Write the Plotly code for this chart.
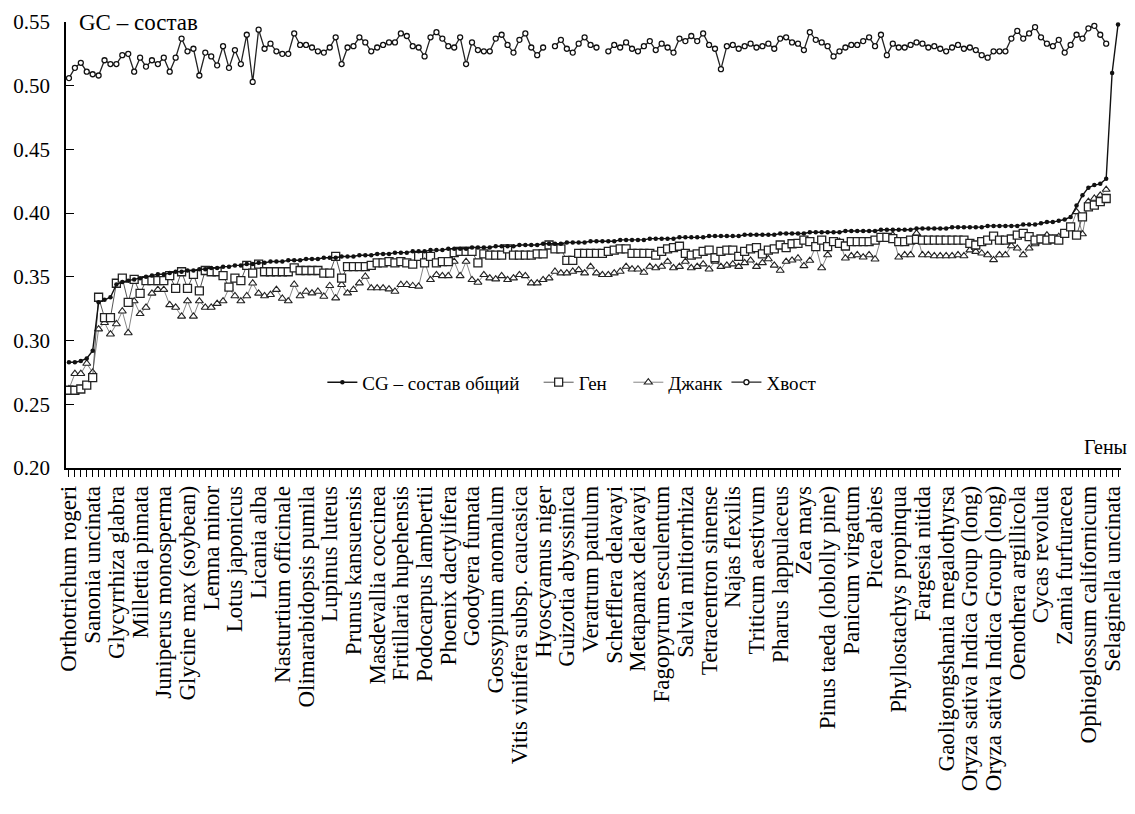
import plotly.graph_objects as go

gene_labels = [
    "Orthotrichum rogeri", "Sanonia uncinata", "Glycyrrhiza glabra", "Millettia pinnata",
    "Juniperus monosperma", "Glycine max (soybean)", "Lemna minor", "Lotus japonicus",
    "Licania alba", "Nasturtium officinale", "Olimarabidopsis pumila", "Lupinus luteus",
    "Prunus kansuensis", "Masdevallia coccinea", "Fritillaria hupehensis", "Podocarpus lambertii",
    "Phoenix dactylifera", "Goodyera fumata", "Gossypium anomalum", "Vitis vinifera subsp. caucasica",
    "Hyoscyamus niger", "Guizotia abyssinica", "Veratrum patulum", "Schefflera delavayi",
    "Metapanax delavayi", "Fagopyrum esculentum", "Salvia miltiorrhiza", "Tetracentron sinense",
    "Najas flexilis", "Triticum aestivum", "Pharus lappulaceus", "Zea mays",
    "Pinus taeda (loblolly pine)", "Panicum virgatum", "Picea abies", "Phyllostachys propinqua",
    "Fargesia nitida", "Gaoligongshania megalothyrsa", "Oryza sativa Indica Group (long)",
    "Oryza sativa Indica Group (long)", "Oenothera argillicola", "Cycas revoluta",
    "Zamia furfuracea", "Ophioglossum californicum", "Selaginella uncinata",
]
label_step = 4

cg_total = [
    .283, .283, .284, .286, .292, .330, .332, .334, .344, .346,
    .347, .348, .349, .350, .351, .352, .352, .353, .354, .354,
    .355, .355, .356, .356, .357, .357, .358, .358, .359, .359,
    .360, .360, .361, .361, .362, .362, .362, .363, .363, .363,
    .364, .364, .364, .365, .365, .365, .366, .366, .366, .367,
    .367, .367, .368, .368, .368, .369, .369, .369, .370, .370,
    .370, .371, .371, .371, .372, .372, .372, .372, .373, .373,
    .373, .373, .374, .374, .374, .374, .375, .375, .375, .375,
    .376, .376, .376, .376, .377, .377, .377, .377, .378, .378,
    .378, .378, .378, .379, .379, .379, .379, .379, .380, .380,
    .380, .380, .380, .381, .381, .381, .381, .381, .382, .382,
    .382, .382, .382, .382, .383, .383, .383, .383, .383, .383,
    .384, .384, .384, .384, .384, .385, .385, .385, .385, .385,
    .385, .386, .386, .386, .386, .386, .386, .387, .387, .387,
    .387, .387, .387, .388, .388, .388, .388, .388, .388, .389,
    .389, .389, .389, .389, .389, .390, .390, .390, .390, .390,
    .390, .391, .391, .391, .392, .393, .393, .394, .395, .397,
    .406, .414, .420, .422, .423, .427, .510, .548,
]

gen = [
    .261, .261, .262, .265, .271, .334, .318, .318, .345, .349,
    .330, .348, .337, .347, .347, .347, .347, .351, .341, .354,
    .341, .352, .339, .355, .354, .354, .351, .342, .349, .347,
    .359, .353, .360, .354, .354, .354, .354, .354, .357, .355,
    .355, .355, .355, .353, .353, .366, .349, .358, .358, .358,
    .358, .359, .361, .361, .362, .361, .362, .361, .360, .366,
    .361, .366, .361, .362, .362, .369, .370, .370, .370, .361,
    .368, .367, .367, .367, .372, .367, .367, .367, .367, .368,
    .368, .375, .372, .372, .363, .363, .3685, .3685, .3685, .3685,
    .3685, .370, .371, .372, .372, .3685, .3685, .3685, .3685, .367,
    .370, .372, .373, .374, .3685, .367, .368, .370, .371, .365,
    .370, .371, .371, .366, .370, .372, .373, .368, .371, .372,
    .375, .373, .376,
    .3763, .3789, .3776, .3737, .3789, .3737, .3776, .3763, .3742, .3776,
    .3776, .3776, .3776, .3789, .381, .381, .380, .3776, .3776, .3789,
    .3794, .3789, .3789, .3789, .3789, .3789, .3789, .3789,
    .3789, .3763, .375, .3776, .3789, .382, .3789, .3789, .3797, .3828,
    .3841, .3815, .3789, .3797, .3789, .3797, .3789, .3841, .3893, .3828,
    .3971, .4049, .4063, .409, .4115,
    None, None,
]

junk = [
    .262, .274, .274, .282, .275, .309, .314, .305, .313, .323,
    .306, .331, .321, .326, .337, .340, .340, .328, .326, .319,
    .331, .319, .331, .326, .326, .329, .331, .341, .335, .331,
    .335, .345, .337, .335, .336, .340, .333, .331, .344, .335,
    .3385, .3372, .3385, .3346, .343, .3333, .3438, .3372, .3399, .3451,
    .3503, .3412, .3412, .3412, .3404, .3385, .3438, .3438, .343, .3425,
    .362, .3477, .3516, .3508, .3508, .362, .3508, .362, .3477, .3456,
    .3516, .349, .3482, .3508, .3477, .349, .3516, .3508, .3451, .3451,
    .3477, .349, .3542, .3529, .3529, .3542, .3555, .3529, .3581, .3529,
    .3516, .3516, .3529, .3542, .3581, .356, .356, .3534, .3581, .357,
    .3581, .362, .357, .358, .362, .357, .358, .360, .356, .362,
    .358, .359, .360, .358, .361, .363, .358, .361, .364, .359,
    .355, .362, .363,
    .3646, .3586, .3628, .374, .357, .3672, .3776, .3776, .3646, .3664,
    .3672, .3654, .3672, .3638, .380, .3815, .3828, .3654, .3672, .3672,
    .3841, .3672, .3672, .3664, .3664, .3664, .3664, .3672,
    .3664, .371, .3698, .3685, .3672, .3633, .3672, .3672, .3742, .3724,
    .3672, .3724, .3758, .3789, .3828, .380, .3815, .3841, .388, .401,
    .3836, .409, .4115, .414, .4185,
    None, None,
]

tail = [
    .506, .514, .518, .511, .509, .508, .520, .517, .517, .524,
    .525, .511, .522, .515, .520, .517, .522, .511, .522, .537,
    .527, .529, .508, .526, .523, .516, .531, .514, .528, .517,
    .540, .503, .544, .529, .533, .527, .525, .525, .541,
    .532,
    .532, .530, .527, .526, .530, .538, .517, .530, .531, .538,
    .534, .527, .530, .532, .534, .534, .541, .539, .531, .530,
    .523, .538, .542, .537, .531, .530, .538, .517, .534, .528,
    .527, .527, .537, .540, .532, .526, .536, .541, .530, .524,
    .530, None, .531, .536, .529, .526, .533, .538, .532, .530,
    None, .527, .532, .530, .534, .529, .527, .531, .535, .528,
    .533, .530, .526, .537, .535, .539, .535, .541, .532, .529,
    .513, .531, .532, .529, .531, .533, .530, .531, .533, .529,
    .537, .538, .534, .533, .528, .542, .536, .534, .531, .523,
    .527, .530, .532, .532, .535, .538, .531, .540, .524, .533,
    .530, .530, .532, .534, .533, .530, .531, .529, .527, .530,
    .532, .529, .530, .528, .524, .522, .527, .527, .527, .537,
    .543, .537, .541, .546, .538, .533, .531, .536, .526, .532,
    .540, .537, .545, .547, .540, .533, None, None,
]

N = len(cg_total)
assert len(gen) == N and len(junk) == N and len(tail) == N, (N, len(gen), len(junk), len(tail))
xs = list(range(N))
tick_text = []
for i in range(N):
    if i % label_step == 0 and i // label_step < len(gene_labels):
        tick_text.append(gene_labels[i // label_step])
    else:
        tick_text.append("")

SERIF = "Liberation Serif"
LEG_FONT = dict(family=SERIF, size=19, color="black")
fig = go.Figure()

fig.add_trace(go.Scatter(
    x=xs, y=tail, mode="lines+markers", name="Хвост", legend="legend4",
    line=dict(color="#222", width=1.3),
    marker=dict(symbol="circle", size=5, color="white", line=dict(color="#111", width=1.3)),
))
fig.add_trace(go.Scatter(
    x=xs, y=junk, mode="lines+markers", name="Джанк", legend="legend3",
    line=dict(color="#777", width=0.9),
    marker=dict(symbol="triangle-up", size=7, color="white", line=dict(color="#222", width=1.1)),
))
fig.add_trace(go.Scatter(
    x=xs, y=gen, mode="lines+markers", name="Ген", legend="legend2",
    line=dict(color="#555", width=1.0),
    marker=dict(symbol="square", size=8, color="white", line=dict(color="#222", width=1.3)),
))
fig.add_trace(go.Scatter(
    x=xs, y=cg_total, mode="lines+markers", name="CG – состав общий", legend="legend",
    line=dict(color="#111", width=1.4),
    marker=dict(symbol="circle", size=4.5, color="#111"),
))

def leg(xpos):
    return dict(orientation="h", x=xpos, y=0.192, xanchor="left", yanchor="middle",
                font=LEG_FONT, itemwidth=30, bgcolor="rgba(0,0,0,0)")

fig.update_layout(
    width=1135, height=814, autosize=False,
    margin=dict(l=66, r=10, t=21, b=346),
    plot_bgcolor="white", paper_bgcolor="white",
    font=dict(family=SERIF, size=20, color="black"),
    showlegend=True,
    legend=leg(0.243),
    legend2=leg(0.448),
    legend3=leg(0.533),
    legend4=leg(0.626),
)

fig.update_xaxes(
    range=[-0.5, N - 0.5], showgrid=False, zeroline=False,
    showline=True, linecolor="black", linewidth=1.5,
    tickmode="array", tickvals=xs, ticktext=tick_text, tickangle=-90,
    ticks="outside", ticklen=7, tickwidth=1, tickcolor="black",
    tickfont=dict(family=SERIF, size=23, color="black"),
)
fig.update_yaxes(
    range=[0.20, 0.55], showgrid=False, zeroline=False,
    showline=True, linecolor="black", linewidth=1.5,
    tickmode="array", tickvals=[0.20, 0.25, 0.30, 0.35, 0.40, 0.45, 0.50, 0.55],
    ticktext=["0.20", "0.25", "0.30", "0.35", "0.40", "0.45", "0.50", "0.55"],
    ticks="inside", ticklen=8, tickwidth=1, tickcolor="black",
    tickfont=dict(family=SERIF, size=21, color="black"),
    ticklabelstandoff=10,
)

fig.add_annotation(
    text="GC – состав", xref="paper", yref="paper", x=0.010, y=1.0,
    xanchor="left", yanchor="middle", showarrow=False,
    font=dict(family=SERIF, size=23, color="black"),
)
fig.add_annotation(
    text="Гены", xref="paper", yref="paper", x=1.008, y=0.047,
    xanchor="right", yanchor="middle", showarrow=False,
    font=dict(family=SERIF, size=20, color="black"),
)

fig.write_html("out.html")
